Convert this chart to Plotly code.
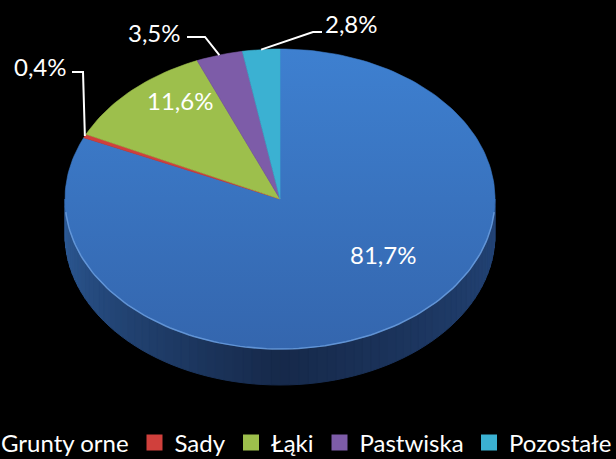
import numpy as np
import plotly.graph_objects as go

# ---- data ----
categories = ["Grunty orne", "Sady", "Łąki", "Pastwiska", "Pozostałe"]
values = [81.7, 0.4, 11.6, 3.5, 2.8]
colors = ["#3b78c6", "#d0403c", "#9dbf4c", "#7d5ca8", "#3bb1d2"]

# ---- geometry / layout ----
W, H, MB = 616, 459, 40
cx, cy, rx, ry, depth = 280, 199, 215, 150, 36
FONT = "Lato"


def pt(theta_deg, dy=0.0):
    t = np.radians(np.asarray(theta_deg, dtype=float))
    return cx + rx * np.sin(t), cy - ry * np.cos(t) + dy


def hex2rgb(h):
    h = h.lstrip("#")
    return np.array([int(h[i:i + 2], 16) for i in (0, 2, 4)], dtype=float)


def mix(c1, c2, f):
    a, b = hex2rgb(c1), hex2rgb(c2)
    c = a + (b - a) * f
    return "rgb(%d,%d,%d)" % tuple(np.round(c).astype(int))


def side_color(th):
    # th in [90, 270]; 90 = right, 180 = front, 270 = left
    if th <= 180:
        return mix("#24467a", "#16294a", (th - 90) / 90.0)
    return mix("#16294a", "#2d5b98", (th - 180) / 90.0)


fig = go.Figure()

# side wall (front half, visible part of first slice)
total = sum(values)
bounds = np.linspace(90, 270, 73)
for a, b in zip(bounds[:-1], bounds[1:]):
    ths = np.linspace(a, b, 4)
    xt, yt = pt(ths)
    xb, yb = pt(ths[::-1], depth)
    c = side_color((a + b) / 2)
    fig.add_trace(go.Scatter(
        x=list(xt) + list(xb) + [xt[0]], y=list(yt) + list(yb) + [yt[0]],
        fill="toself", fillcolor=c, mode="lines", line=dict(width=1, color=c),
        hoverinfo="skip", showlegend=False))

# top face slices
cum = 0.0
mids = []
for name, v, col in zip(categories, values, colors):
    a0 = cum / total * 360
    a1 = (cum + v) / total * 360
    cum += v
    mids.append((a0 + a1) / 2)
    n = max(4, int((a1 - a0) / 1.5))
    ths = np.linspace(a0, a1, n)
    xs, ys = pt(ths)
    X = [cx] + list(xs) + [cx]
    Y = [cy] + list(ys) + [cy]
    kw = {}
    if name == categories[0]:
        kw["fillgradient"] = dict(type="vertical", start=cy + ry, stop=cy - ry,
                                  colorscale=[[0, "#3466ae"], [1, "#3e80d0"]])
    else:
        kw["fillcolor"] = col
    fig.add_trace(go.Scatter(x=X, y=Y, fill="toself", mode="lines",
                             line=dict(width=0.6, color=col), hoverinfo="skip",
                             showlegend=False, **kw))

# rim highlight on the front edge
ths = np.linspace(95, 265, 120)
xs, ys = pt(ths)
fig.add_trace(go.Scatter(x=xs, y=ys, mode="lines",
                         line=dict(width=1.5, color="rgba(110,160,225,0.8)"),
                         hoverinfo="skip", showlegend=False))

# legend entries (split across two legends so the row can span the full width)
legend_widths = [128.5, 51.5, 47, 104.5, 110]
legend_ids = ["legend", "legend", "legend", "legend2", "legend2"]
for name, col, lw, lg in zip(categories, colors, legend_widths, legend_ids):
    fig.add_trace(go.Scatter(x=[None], y=[None], mode="markers", name=name,
                             marker=dict(symbol="square", size=16, color=col,
                                         line=dict(width=0)),
                             legendwidth=lw, legend=lg, showlegend=True))

# labels
def fmt(v):
    return ("%.1f" % v).replace(".", ",") + "%"

label_pos = [(383, 254), (40, 66), (180, 100), (154, 32), (351, 23)]
elbows = [None, [(83, 72), (72, 72)], None, [(205, 37), (187, 37)],
          [(313, 32), (322, 32)]]
for v, m, (lx, ly), el in zip(values, mids, label_pos, elbows):
    fig.add_annotation(x=lx, y=ly, text=fmt(v), showarrow=False,
                       font=dict(family=FONT, size=24, color="white"),
                       xanchor="center", yanchor="middle")
    if el:
        sx, sy = pt(m)
        px = [float(sx)] + [e[0] for e in el]
        py = [float(sy)] + [e[1] for e in el]
        fig.add_trace(go.Scatter(x=px, y=py, mode="lines",
                                 line=dict(color="white", width=2),
                                 hoverinfo="skip", showlegend=False))

leg_common = dict(orientation="h", xanchor="left",
                  y=-24 / (H - MB), yanchor="middle",
                  font=dict(family=FONT, size=24, color="white"),
                  bgcolor="rgba(0,0,0,0)", itemsizing="trace",
                  traceorder="normal", borderwidth=0)

fig.update_layout(
    width=W, height=H,
    margin=dict(l=0, r=0, t=0, b=MB, autoexpand=False),
    paper_bgcolor="black", plot_bgcolor="black",
    xaxis=dict(range=[0, W], visible=False, fixedrange=True),
    yaxis=dict(range=[H - MB, 0], visible=False, fixedrange=True),
    legend=dict(x=-39 / W, **leg_common),
    legend2=dict(x=319.5 / W, **leg_common),
    showlegend=True,
)

fig.write_html(
    "out.html",
    config={"displayModeBar": False},
    post_script="document.body.style.margin='0';document.body.style.background='black';",
)
